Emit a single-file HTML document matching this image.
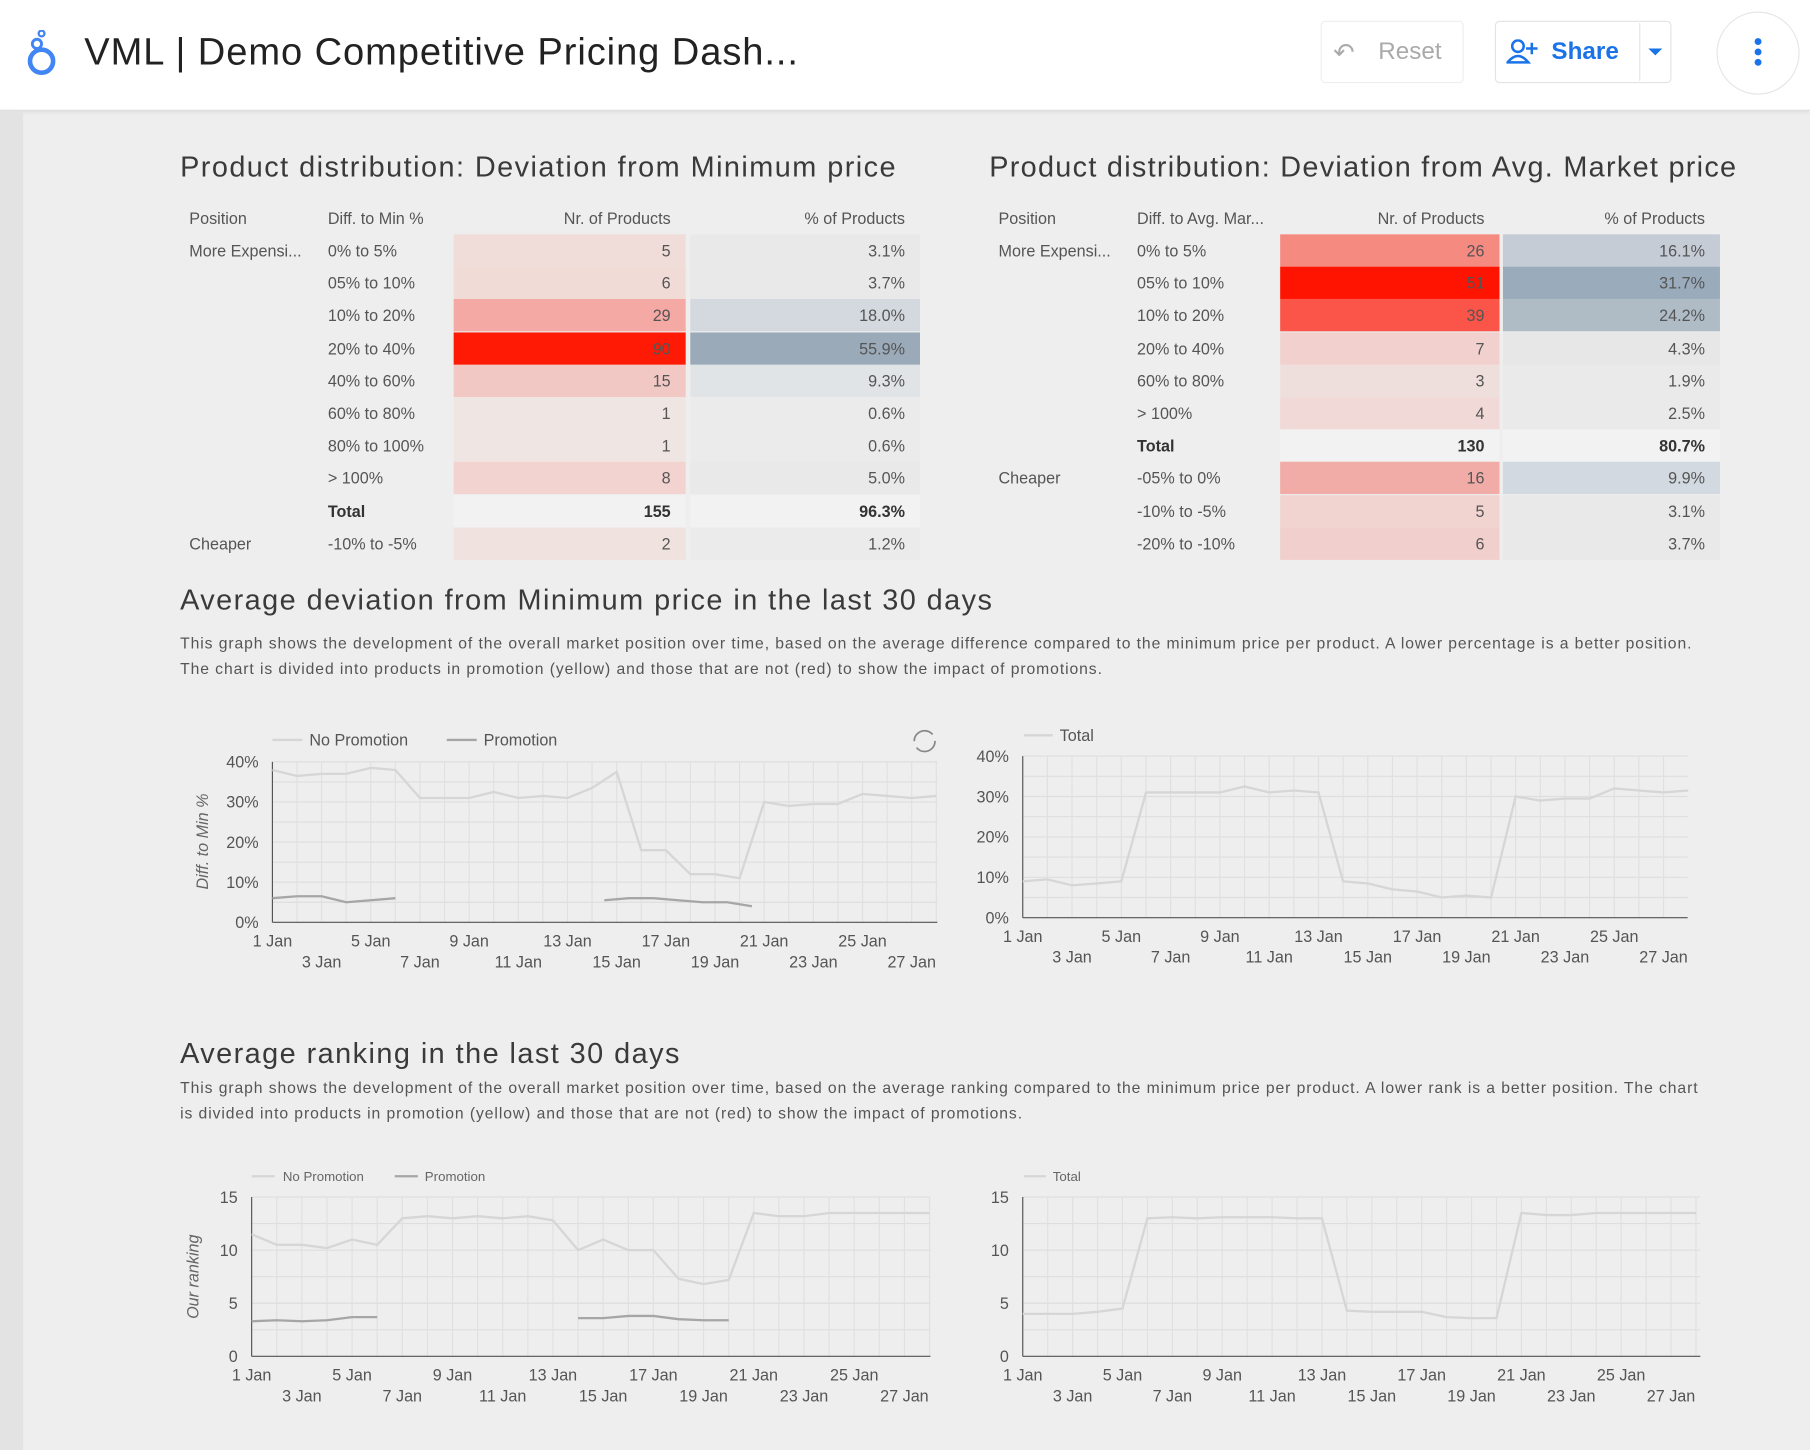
<!DOCTYPE html>
<html><head><meta charset="utf-8">
<style>
html,body{margin:0;padding:0;width:1810px;height:1442px;overflow:hidden;background:#eeeeee;font-family:"Liberation Sans",sans-serif;}
#w{position:absolute;left:0;top:0;width:1568px;height:1250px;transform:scale(1.15434);transform-origin:0 0;background:#eeeeee;}
.a{position:absolute;white-space:nowrap;}
.hdr{position:absolute;left:0;top:0;width:1568px;height:95px;background:#fff;border-bottom:1px solid #ddd;box-shadow:0 1px 3px rgba(0,0,0,.08);}
.strip{position:absolute;left:0;top:96px;width:20px;height:1160px;background:#e3e3e3;}
.ttl{font-size:25px;color:#3a3a3a;letter-spacing:1.25px;}
.th{font-size:14px;color:#555;}
.td{font-size:14px;color:#555;}
.cell{position:absolute;height:28px;font-size:14px;color:#555;text-align:right;box-sizing:border-box;padding-right:13px;line-height:28px;}
.desc{font-size:13.6px;color:#555;line-height:22px;letter-spacing:0.8px;}
</style></head><body>
<div id="w">
<div class="hdr">
 <svg class="a" style="left:22px;top:26px" width="28" height="42" viewBox="0 0 28 42"><circle cx="14" cy="27" r="10" fill="none" stroke="#4285f4" stroke-width="4"/><circle cx="10" cy="12" r="4" fill="none" stroke="#4285f4" stroke-width="2.5"/><circle cx="14" cy="3" r="2.5" fill="none" stroke="#4285f4" stroke-width="2"/></svg>
 <div class="a" style="left:73px;top:26px;font-size:33px;color:#222;letter-spacing:0.8px;">VML | Demo Competitive Pricing Dash...</div>
 <div class="a" style="left:1144px;top:18px;width:124px;height:54px;border:1px solid #eee;border-radius:4px;box-sizing:border-box;"></div>
 <div class="a" style="left:1155px;top:33px;font-size:22px;color:#aaa;">&#x21B6;</div>
 <div class="a" style="left:1194px;top:33px;font-size:21px;color:#aaa;">Reset</div>
 <div class="a" style="left:1295px;top:18px;width:153px;height:54px;border:1px solid #e3e3e3;border-radius:4px;box-sizing:border-box;"></div>
 <div class="a" style="left:1420px;top:20px;width:1px;height:50px;background:#e3e3e3"></div>
 <svg class="a" style="left:1305px;top:34px" width="28" height="22"><circle cx="10" cy="6" r="5" fill="none" stroke="#1a73e8" stroke-width="2.2"/><path d="M1 20 Q10 9 19 20 Z" fill="none" stroke="#1a73e8" stroke-width="2.2"/><path d="M22 3v10M17 8h10" stroke="#1a73e8" stroke-width="2.2"/></svg>
 <div class="a" style="left:1344px;top:33px;font-size:21px;color:#1a73e8;font-weight:bold;">Share</div>
 <div class="a" style="left:1428px;top:42px;width:0;height:0;border-left:6px solid transparent;border-right:6px solid transparent;border-top:6px solid #1a73e8;"></div>
 <div class="a" style="left:1487px;top:10px;width:72px;height:72px;border:1px solid #e6e6e6;border-radius:50%;box-sizing:border-box;"></div>
 <div class="a" style="left:1520px;top:33px;width:6px;height:6px;border-radius:50%;background:#1a73e8;box-shadow:0 9px 0 #1a73e8,0 18px 0 #1a73e8;"></div>
</div>
<div class="strip"></div>

<div class="a ttl" style="left:156px;top:131px;">Product distribution: Deviation from Minimum price</div>
<div class="a ttl" style="left:857px;top:131px;letter-spacing:1.1px;">Product distribution: Deviation from Avg. Market price</div>
<div id="tables"></div>

<div class="a ttl" style="left:156px;top:506px;">Average deviation from Minimum price in the last 30 days</div>
<div class="a desc" style="left:156px;top:547px;">This graph shows the development of the overall market position over time, based on the average difference compared to the minimum price per product. A lower percentage is a better position.<br>The chart is divided into products in promotion (yellow) and those that are not (red) to show the impact of promotions.</div>
<div class="a ttl" style="left:156px;top:899px;">Average ranking in the last 30 days</div>
<div class="a desc" style="left:156px;top:932px;">This graph shows the development of the overall market position over time, based on the average ranking compared to the minimum price per product. A lower rank is a better position. The chart<br>is divided into products in promotion (yellow) and those that are not (red) to show the impact of promotions.</div>

<svg id="ch" class="a" style="left:0;top:0" width="1568" height="1250"></svg>
</div>
<script>
var T=document.getElementById('tables'),h='';
function txt(x,y,s,st){h+='<div class="a" style="left:'+x+'px;top:'+y+'px;font-size:14px;color:#555;'+(st||'')+'">'+s+'</div>';}
function tbl(px,dx,nx,nw,qx,qw,hd,rows){
 txt(px,181,'Position');txt(dx,181,hd);
 h+='<div class="a th" style="left:'+nx+'px;top:181px;width:'+(nw-13)+'px;text-align:right">Nr. of Products</div>';
 h+='<div class="a th" style="left:'+qx+'px;top:181px;width:'+(qw-13)+'px;text-align:right">% of Products</div>';
 rows.forEach(function(r,i){var y=203+i*28.2;var b=r[6]?'font-weight:bold;color:#333;':'';
  if(r[0])txt(px,y+6,r[0]);txt(dx,y+6,r[1],b);
  h+='<div class="cell" style="left:'+nx+'px;top:'+y+'px;width:'+nw+'px;background:'+r[3]+';'+b+'">'+r[2]+'</div>';
  h+='<div class="cell" style="left:'+qx+'px;top:'+y+'px;width:'+qw+'px;background:'+r[5]+';'+b+'">'+r[4]+'</div>';});
}
tbl(164,284,393,201,598,199,'Diff. to Min %',[
['More Expensi...','0% to 5%','5','#f0dcd8','3.1%','#e9e9e9'],
['','05% to 10%','6','#f0dbd6','3.7%','#e9e9e9'],
['','10% to 20%','29','#f4a9a4','18.0%','#d3d9de'],
['','20% to 40%','90','#fe1a04','55.9%','#9aaab9'],
['','40% to 60%','15','#f2c8c5','9.3%','#e1e4e6'],
['','60% to 80%','1','#efe5e2','0.6%','#ebebeb'],
['','80% to 100%','1','#efe5e2','0.6%','#ebebeb'],
['','&gt; 100%','8','#f2d3d0','5.0%','#e9e9e9'],
['','Total','155','#f2f2f2','96.3%','#f2f2f2',1],
['Cheaper','-10% to -5%','2','#efe2df','1.2%','#ebebeb']]);
tbl(865,985,1109,190,1302,188,'Diff. to Avg. Mar...',[
['More Expensi...','0% to 5%','26','#f58a80','16.1%','#c5ccd6'],
['','05% to 10%','51','#fe1400','31.7%','#9aabbb'],
['','10% to 20%','39','#fb5448','24.2%','#afbcc6'],
['','20% to 40%','7','#f1d0cd','4.3%','#e7e7e7'],
['','60% to 80%','3','#efdfdc','1.9%','#eaeaea'],
['','&gt; 100%','4','#f0d9d6','2.5%','#eaeaea'],
['','Total','130','#f2f2f2','80.7%','#f2f2f2',1],
['Cheaper','-05% to 0%','16','#f1aca7','9.9%','#d3d9e0'],
['','-10% to -5%','5','#f1d3d0','3.1%','#e9e9e9'],
['','-20% to -10%','6','#f1cfcc','3.7%','#e9e9e9']]);
T.innerHTML=h;

var s='';
function chart(x0,x1,y0,y1,max,step,ylab,fmt,fs,series,dx){
 var per=dx;
 for(var v=0;v<=max;v+=step/2){var y=y0-(v/max)*(y0-y1);s+='<line x1="'+x0+'" x2="'+x1+'" y1="'+y+'" y2="'+y+'" stroke="#dedede" stroke-width="1"/>';}
 for(var d=0;d<28;d++){var x=x0+d*per;if(x>x1)break;s+='<line x1="'+x+'" x2="'+x+'" y1="'+y1+'" y2="'+y0+'" stroke="#e0e0e0" stroke-width="1"/>';}
 s+='<line x1="'+x0+'" x2="'+x0+'" y1="'+y1+'" y2="'+y0+'" stroke="#555" stroke-width="1"/>';
 s+='<line x1="'+x0+'" x2="'+x1+'" y1="'+y0+'" y2="'+y0+'" stroke="#555" stroke-width="1"/>';
 for(var v=0;v<=max;v+=step){var y=y0-(v/max)*(y0-y1);s+='<text x="'+(x0-12)+'" y="'+(y+5)+'" text-anchor="end" font-size="'+fs+'" fill="#555">'+v+fmt+'</text>';}
 for(var d=0;d<27;d+=2){var x=x0+d*per;var yy=(d%4==0)?y0+21:y0+39;s+='<text x="'+x+'" y="'+yy+'" text-anchor="middle" font-size="'+fs+'" fill="#555">'+(d+1)+' Jan</text>';}
 if(ylab)s+='<text transform="translate('+ylab[0]+','+ylab[1]+') rotate(-90)" text-anchor="middle" font-size="14" font-style="italic" fill="#666">'+ylab[2]+'</text>';
 series.forEach(function(se){var pts=[];se.d.forEach(function(v,i){if(v==null)return;pts.push((x0+(i+se.o)*per).toFixed(1)+','+(y0-(v/max)*(y0-y1)).toFixed(1));});
  s+='<polyline points="'+pts.join(' ')+'" fill="none" stroke="'+se.c+'" stroke-width="2"/>';});
}
var np1=[38,36.5,37,37,38.5,38,31,31,31,32.5,31,31.5,31,33.5,37.5,18,18,12,12,11,30,29,29.5,29.5,32,31.5,31,31.5];
var p1a=[6,6.5,6.5,5,5.5,6],p1b=[5.5,6,6,5.5,5,5,4];
chart(236,812,799,660,40,10,[180,729,'Diff. to Min %'],'%',14,[{d:np1,o:0,c:'#d6d6d6'},{d:p1a,o:0,c:'#a6a6a6'},{d:p1b,o:13.5,c:'#a6a6a6'}],21.3);
var t2=[9,9.5,8,8.5,9,31,31,31,31,32.5,31,31.5,31,9,8.5,7,6.5,5,5.5,5,30,29,29.5,29.5,32,31.5,31,31.5];
chart(886,1462,795,655,40,10,null,'%',14,[{d:t2,o:0,c:'#d6d6d6'}],21.35);
var np3=[11.5,10.5,10.5,10.2,11,10.5,13,13.2,13,13.2,13,13.2,12.8,10,11,10,10,7.3,6.8,7.2,13.5,13.2,13.2,13.5,13.5,13.5,13.5,13.5];
var p3a=[3.3,3.4,3.3,3.4,3.7,3.7],p3b=[3.6,3.6,3.8,3.8,3.5,3.4,3.4];
chart(218,806,1175,1037,15,5,[172,1106,'Our ranking'],'',14,[{d:np3,o:0,c:'#d6d6d6'},{d:p3a,o:0,c:'#a6a6a6'},{d:p3b,o:13,c:'#a6a6a6'}],21.75);
var t4=[4,4,4,4.2,4.5,13,13.1,13,13.1,13.1,13.1,13,13,4.3,4.2,4.2,4.2,3.7,3.6,3.6,13.5,13.3,13.3,13.5,13.5,13.5,13.5,13.5];
chart(886,1473,1175,1037,15,5,null,'',14,[{d:t4,o:0,c:'#d6d6d6'}],21.6);
s+='<line x1="236" x2="262" y1="641" y2="641" stroke="#d6d6d6" stroke-width="2"/><text x="268" y="646" font-size="14" fill="#555">No Promotion</text>';
s+='<line x1="387" x2="413" y1="641" y2="641" stroke="#a6a6a6" stroke-width="2"/><text x="419" y="646" font-size="14" fill="#555">Promotion</text>';
s+='<line x1="887" x2="912" y1="637" y2="637" stroke="#d6d6d6" stroke-width="2"/><text x="918" y="642" font-size="14" fill="#555">Total</text>';
s+='<line x1="218" x2="238" y1="1019" y2="1019" stroke="#d6d6d6" stroke-width="2"/><text x="245" y="1023" font-size="11.5" fill="#666">No Promotion</text>';
s+='<line x1="342" x2="362" y1="1019" y2="1019" stroke="#a6a6a6" stroke-width="2"/><text x="368" y="1023" font-size="11.5" fill="#666">Promotion</text>';
s+='<line x1="887" x2="906" y1="1019" y2="1019" stroke="#d6d6d6" stroke-width="2"/><text x="912" y="1023" font-size="11.5" fill="#666">Total</text>';
s+='<circle cx="801" cy="642" r="9" fill="none" stroke="#888" stroke-width="1.5" stroke-dasharray="22 6"/>';
document.getElementById('ch').innerHTML=s;
</script>
</body></html>
